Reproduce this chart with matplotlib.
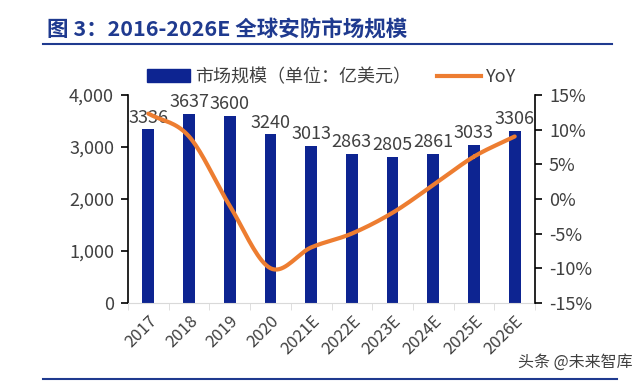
import matplotlib.pyplot as plt
import numpy as np
from matplotlib.lines import Line2D
from matplotlib.patches import Patch

plt.rcParams['font.family'] = ['Noto Sans CJK SC', 'DejaVu Sans']

years = ['2017', '2018', '2019', '2020', '2021E', '2022E', '2023E', '2024E', '2025E', '2026E']
market = [3336, 3637, 3600, 3240, 3013, 2863, 2805, 2861, 3033, 3306]
yoy = [12.3, 9.0, -1.0, -10.0, -7.0, -5.0, -2.0, 2.0, 6.1, 9.0]

bar_color = '#0D2491'
line_color = '#ED7D31'
text_color = '#404040'


def smooth(x, y, n=20):
    # Catmull-Rom style curve, similar to a smoothed line in a spreadsheet
    x = np.asarray(x, float)
    y = np.asarray(y, float)
    px = np.concatenate([[2 * x[0] - x[1]], x, [2 * x[-1] - x[-2]]])
    py = np.concatenate([[2 * y[0] - y[1]], y, [2 * y[-1] - y[-2]]])
    xs, ys = [], []
    t = np.linspace(0, 1, n)
    for i in range(1, len(px) - 2):
        for arr, out in ((px, xs), (py, ys)):
            p0, p1, p2, p3 = arr[i - 1:i + 3]
            out.extend(0.5 * ((2 * p1) + (-p0 + p2) * t
                              + (2 * p0 - 5 * p1 + 4 * p2 - p3) * t ** 2
                              + (-p0 + 3 * p1 - 3 * p2 + p3) * t ** 3))
    return np.array(xs), np.array(ys)


fig = plt.figure(figsize=(6.4, 3.81), dpi=100)
ax = fig.add_axes([0.2, 0.205, 0.636, 0.546])
x = np.arange(len(years))
ax.bar(x, market, width=0.29, color=bar_color, zorder=2)
for xi, v in zip(x, market):
    ax.annotate(str(v), (xi, v), xytext=(0, 2), textcoords='offset points',
                ha='center', va='bottom', fontsize=13, color=text_color, zorder=5)

ax.set_xlim(-0.5, len(years) - 0.5)
ax.set_ylim(0, 4000)
ax.set_yticks([0, 1000, 2000, 3000, 4000])
ax.set_yticklabels(['0', '1,000', '2,000', '3,000', '4,000'])
ax.set_xticks(x)
ax.set_xticklabels(years, rotation=45, ha='right', rotation_mode='anchor')
ax.set_xticks(np.arange(-0.5, len(years)), minor=True)
ax.tick_params(axis='x', which='major', length=0, labelsize=12, labelcolor=text_color, pad=7)
ax.tick_params(axis='x', which='minor', length=5, color='#D9D9D9', direction='out')
ax.tick_params(axis='y', labelsize=13, labelcolor=text_color, length=5, width=1.2,
               direction='out', pad=5)
ax.spines['top'].set_visible(False)
ax.spines['right'].set_visible(False)
ax.spines['bottom'].set_color('#D9D9D9')
ax.spines['left'].set_linewidth(1.2)

ax2 = ax.twinx()
sx, sy = smooth(x, yoy)
ax2.plot(sx, sy, color=line_color, lw=3, solid_capstyle='round', zorder=3)
ax2.set_ylim(-15, 15)
ax2.set_yticks([-15, -10, -5, 0, 5, 10, 15])
ax2.set_yticklabels(['-15%', '-10%', '-5%', '0%', '5%', '10%', '15%'])
ax2.tick_params(axis='y', labelsize=13, labelcolor=text_color, length=5, width=1.2,
                direction='out', pad=5)
for s in ['top', 'left', 'bottom']:
    ax2.spines[s].set_visible(False)
ax2.spines['right'].set_linewidth(1.2)

handles = [Patch(color=bar_color), Line2D([], [], color=line_color, lw=3)]
fig.legend(handles, ['市场规模（单位：亿美元）', 'YoY'], loc='center', ncol=2,
           bbox_to_anchor=(0.518, 0.798), frameon=False, fontsize=13,
           labelcolor=text_color, handlelength=2.4, columnspacing=1.45, handletextpad=0.3)

fig.text(0.073, 0.921, '图 3：2016-2026E 全球安防市场规模', fontsize=15.5, fontweight='bold',
         color='#1F3A8F', va='center')
fig.add_artist(Line2D([0.067, 0.956], [0.8845, 0.8845], color='#1F3A8F', lw=1.5))
fig.add_artist(Line2D([0.067, 0.964], [0.006, 0.006], color='#1F3A8F', lw=1.5))
fig.text(0.988, 0.05, '头条 @未来智库', fontsize=11.5, color='#404040', ha='right', va='center')

fig.savefig('out.png', dpi=100)
